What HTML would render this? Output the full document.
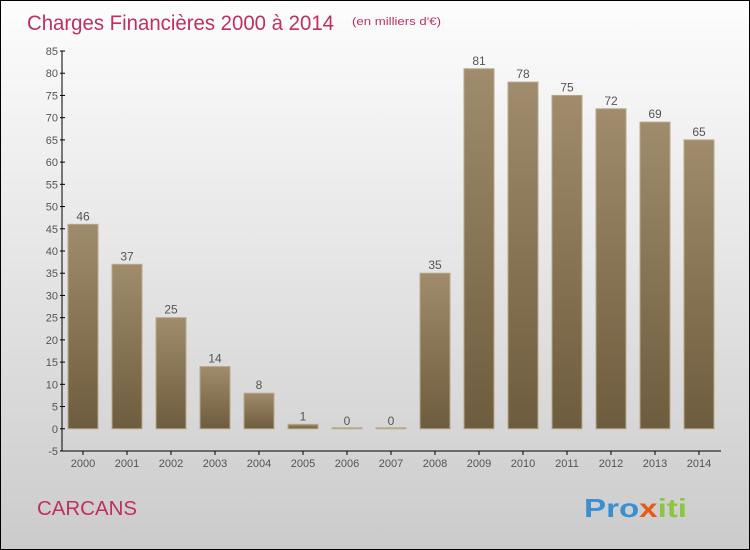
<!DOCTYPE html>
<html><head><meta charset="utf-8"><style>
body{margin:0}
#c{width:748px;height:548px;border:1px solid #000;background:linear-gradient(#fdfdfd,#cbcbcb);position:relative;overflow:hidden}
svg{position:absolute;left:0;top:0}
text{font-family:"Liberation Sans",sans-serif}
</style></head><body>
<div id="c">
<svg id="s" width="750" height="550">
<defs><linearGradient id="g" x1="0" y1="0" x2="0" y2="1"><stop offset="0" stop-color="#a08c6c"/><stop offset="1" stop-color="#6e5c3e"/></linearGradient></defs>
<text x="26" y="29" font-size="21" fill="#c0305e" textLength="307" lengthAdjust="spacingAndGlyphs">Charges Financières 2000 à 2014</text>
<text x="351" y="24" font-size="11" fill="#c0305e" textLength="89" lengthAdjust="spacingAndGlyphs">(en milliers d'€)</text>
<text x="36" y="514" font-size="20" fill="#c0305e" textLength="100" lengthAdjust="spacingAndGlyphs">CARCANS</text>
<text x="583" y="516" font-size="26" font-weight="bold" fill="#3a8fd0" textLength="103" lengthAdjust="spacingAndGlyphs">Pro<tspan fill="#e85a1a">x</tspan><tspan fill="#8cc63f">iti</tspan></text>
</svg></div>
<script>
const categories=["2000","2001","2002","2003","2004","2005","2006","2007","2008","2009","2010","2011","2012","2013","2014"];
const values=[46,37,25,14,8,1,0,0,35,81,78,75,72,69,65];
const yTicks=[-5,0,5,10,15,20,25,30,35,40,45,50,55,60,65,70,75,80,85];
const s=document.getElementById('s');const NS='http://www.w3.org/2000/svg';
const y=v=>450-(v+5)*400/90;const x=i=>82+i*44;
function mk(t,a,p){const e=document.createElementNS(NS,t);for(const k in a)e.setAttribute(k,a[k]);(p||s).appendChild(e);return e;}
let ax=mk('line',{x1:61,y1:50,x2:61,y2:450,stroke:'#000'});


let bx=mk('line',{x1:61,y1:450,x2:720,y2:450,stroke:'#000'});


yTicks.forEach(v=>{mk('line',{x1:59,x2:64,y1:y(v),y2:y(v),stroke:'#000'});
const t=mk('text',{x:57,y:y(v)+4,'font-size':11,fill:'#555','text-anchor':'end'});t.textContent=v;

});
categories.forEach((c,i)=>{mk('line',{x1:x(i),x2:x(i),y1:450,y2:454,stroke:'#000'});
const t=mk('text',{x:x(i),y:466,'font-size':11,fill:'#555','text-anchor':'middle'});t.textContent=c;


const v=values[i];const h=Math.max(y(0)-y(v),1);
const r=mk('rect',{x:x(i)-15,y:y(0)-h,width:30,height:h,fill:'url(#g)',stroke:'#b8a888','stroke-width':1});


const l=mk('text',{x:x(i),y:y(v)-4,'font-size':12,fill:'#555','text-anchor':'middle'});l.textContent=v;

});
</script></body></html>
